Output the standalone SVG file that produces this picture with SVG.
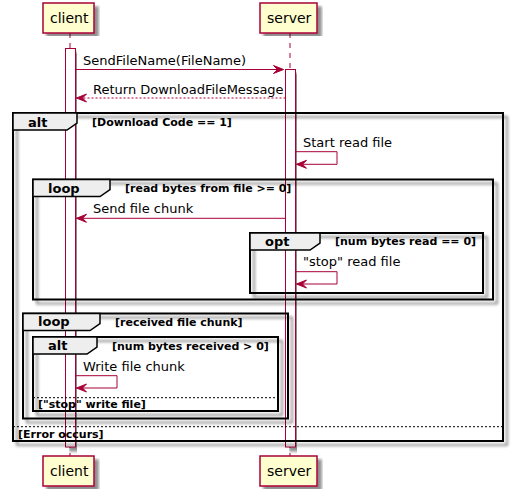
<svg xmlns="http://www.w3.org/2000/svg" width="514" height="496" viewBox="0 0 514 496">
<defs>
<filter id="sh" x="-5%" y="-5%" width="115%" height="115%">
<feGaussianBlur in="SourceAlpha" stdDeviation="1.5" result="b"/>
<feOffset in="b" dx="4" dy="4" result="o"/>
<feComponentTransfer in="o" result="c"><feFuncA type="linear" slope="0.45"/></feComponentTransfer>
<feMerge><feMergeNode in="c"/><feMergeNode in="SourceGraphic"/></feMerge>
</filter>
</defs>
<style>
.part{fill:#FEFECE;stroke:#A80036;stroke-width:1.5;filter:url(#sh)}
.ptxt{font-family:"DejaVu Sans",sans-serif;font-size:14px;fill:#000}
.life{stroke:#A80036;stroke-width:1;stroke-dasharray:5,5;fill:none}
.act{fill:#FFFFFF;stroke:#A80036;stroke-width:1;filter:url(#sh)}
.frame{fill:none;stroke:#000;stroke-width:2;filter:url(#sh)}
.tab{fill:#EEEEEE;stroke:#000;stroke-width:1.5}
.kw{font-family:"DejaVu Sans",sans-serif;font-size:13px;font-weight:bold;fill:#000}
.guard{font-family:"DejaVu Sans",sans-serif;font-size:11px;font-weight:bold;fill:#000}
.sep{stroke:#000;stroke-width:1;stroke-dasharray:2,2}
.msg{stroke:#A80036;stroke-width:1;fill:none}
.dash{stroke-dasharray:2,2}
.head{fill:#A80036;stroke:#A80036;stroke-width:1}
.mtxt{font-family:"DejaVu Sans",sans-serif;font-size:13px;fill:#000}
</style>

<g id="lifelines">
<line class="life" x1="70" y1="33" x2="70" y2="456"/>
<line class="life" x1="290" y1="33" x2="290" y2="456"/>
</g>

<g id="client-top"><rect class="part" x="43" y="3" width="51" height="30"/><text class="ptxt" x="50" y="23">client</text></g>
<g id="server-top"><rect class="part" x="260" y="3" width="57" height="30"/><text class="ptxt" x="267" y="23">server</text></g>
<g id="client-bottom"><rect class="part" x="43" y="456" width="51" height="30"/><text class="ptxt" x="50" y="476">client</text></g>
<g id="server-bottom"><rect class="part" x="260" y="456" width="57" height="30"/><text class="ptxt" x="267" y="476">server</text></g>

<g id="client-activation"><rect class="act" x="65.5" y="48.5" width="10" height="398.5"/></g>
<g id="server-activation"><rect class="act" x="285.5" y="69.5" width="10" height="377.5"/></g>

<g id="alt-download">
<rect class="frame" x="13" y="113" width="490" height="328"/>
<polygon class="tab" points="13,113 77,113 77,123 67,130 13,130"/>
<text class="kw" x="28" y="126.5">alt</text>
<text class="guard" x="92" y="126">[Download Code == 1]</text>
<line class="sep" x1="13" y1="426.7" x2="503" y2="426.7"/>
<text class="guard" x="18" y="437.5">[Error occurs]</text>
</g>

<g id="loop-read">
<rect class="frame" x="33" y="179.5" width="460" height="120"/>
<polygon class="tab" points="33,179.5 110,179.5 110,189.5 100,196.5 33,196.5"/>
<text class="kw" x="48" y="192.5">loop</text>
<text class="guard" x="125" y="192">[read bytes from file &gt;= 0]</text>
</g>

<g id="opt-stop">
<rect class="frame" x="250" y="233" width="233" height="60"/>
<polygon class="tab" points="250,233 320,233 320,243 310,250 250,250"/>
<text class="kw" x="265" y="245.5">opt</text>
<text class="guard" x="335" y="245">[num bytes read == 0]</text>
</g>

<g id="loop-received">
<rect class="frame" x="23" y="313.5" width="265" height="105"/>
<polygon class="tab" points="23,313.5 100,313.5 100,323.5 90,330.5 23,330.5"/>
<text class="kw" x="38" y="326">loop</text>
<text class="guard" x="115" y="325.5">[received file chunk]</text>
</g>

<g id="alt-write">
<rect class="frame" x="33" y="337" width="245" height="74"/>
<polygon class="tab" points="33,337 97,337 97,347 87,354 33,354"/>
<text class="kw" x="48" y="350">alt</text>
<text class="guard" x="112" y="349.5">[num bytes received &gt; 0]</text>
<line class="sep" x1="33" y1="397.7" x2="278" y2="397.7"/>
<text class="guard" x="38" y="408">["stop" write file]</text>
</g>

<g id="connectors">
<line class="msg" x1="75.5" y1="69.5" x2="283.5" y2="69.5"/>
<polygon class="head" points="273.5,65.5 283.5,69.5 273.5,73.5 277.5,69.5"/>
<text class="mtxt" x="83" y="64.5">SendFileName(FileName)</text>

<line class="msg dash" x1="285.5" y1="98" x2="76.5" y2="98"/>
<polygon class="head" points="86.5,94 76.5,98 86.5,102 82.5,98"/>
<text class="mtxt" x="93" y="93.5">Return DownloadFileMessage</text>

<polyline class="msg" points="295.5,151.7 337,151.7 337,164.3 296.5,164.3"/>
<polygon class="head" points="306.5,160.3 296.5,164.3 306.5,168.3 302.5,164.3"/>
<text class="mtxt" x="303" y="146.5">Start read file</text>

<line class="msg" x1="285.5" y1="218.3" x2="76.5" y2="218.3"/>
<polygon class="head" points="86.5,214.3 76.5,218.3 86.5,222.3 82.5,218.3"/>
<text class="mtxt" x="93" y="212.5">Send file chunk</text>

<polyline class="msg" points="295.5,271.7 337,271.7 337,284 296.5,284"/>
<polygon class="head" points="306.5,280 296.5,284 306.5,288 302.5,284"/>
<text class="mtxt" x="303" y="266">"stop" read file</text>

<polyline class="msg" points="75.5,375.7 117,375.7 117,388 76.5,388"/>
<polygon class="head" points="86.5,384 76.5,388 86.5,392 82.5,388"/>
<text class="mtxt" x="83" y="371">Write file chunk</text>
</g>
</svg>
